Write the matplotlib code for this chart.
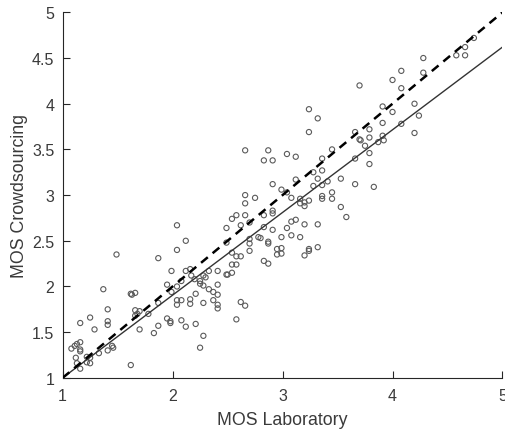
import matplotlib.pyplot as plt

# MOS scores
mos_lab = [1.08, 1.11, 1.13, 1.16, 1.16, 1.16, 1.12, 1.13, 1.16, 1.16,
           1.25, 1.29, 1.22, 1.25, 1.25, 1.33, 1.37, 1.41, 1.41, 1.41,
           1.41, 1.46, 1.49, 1.62, 1.63, 1.66, 1.62, 1.66, 1.68, 1.66,
           1.70, 1.70, 1.78, 1.83, 1.87, 1.87, 1.87, 1.95, 1.95, 1.98,
           1.98, 1.99, 1.99, 2.04, 2.04, 2.04, 2.04, 2.04, 2.08, 2.08,
           2.08, 2.12, 2.12, 2.12, 2.16, 2.17, 2.16, 2.16, 2.21, 2.21,
           2.25, 2.25, 2.25, 2.28, 2.28, 2.28, 2.28, 2.33, 2.33, 2.37,
           2.37, 2.41, 2.41, 2.41, 2.41, 2.41, 2.49, 2.49, 2.49, 2.50,
           2.54, 2.54, 2.54, 2.54, 2.58, 2.58, 2.58, 2.58, 2.62, 2.62,
           2.62, 2.66, 2.66, 2.66, 2.66, 2.66, 2.70, 2.70, 2.70, 2.70,
           2.75, 2.78, 2.80, 2.83, 2.83, 2.83, 2.83, 2.87, 2.87, 2.87,
           2.87, 2.91, 2.91, 2.91, 2.91, 2.91, 2.95, 2.95, 2.99, 2.99,
           2.99, 2.99, 3.04, 3.04, 3.04, 3.08, 3.08, 3.08, 3.12, 3.12,
           3.12, 3.16, 3.16, 3.16, 3.20, 3.20, 3.20, 3.20, 3.24, 3.24,
           3.24, 3.24, 3.24, 3.28, 3.28, 3.32, 3.32, 3.32, 3.32, 3.36,
           3.36, 3.36, 3.36, 3.36, 3.41, 3.45, 3.45, 3.45, 3.53, 3.53,
           3.58, 3.66, 3.66, 3.66, 3.70, 3.70, 3.71, 3.75, 3.79, 3.79,
           3.79, 3.79, 3.83, 3.87, 3.91, 3.91, 3.91, 3.92, 4.00, 4.00,
           4.08, 4.08, 4.08, 4.20, 4.20, 4.24, 4.28, 4.28, 4.58, 4.66,
           4.66, 4.74, 1.22, 1.45, 2.30, 2.20]
mos_crowd = [1.32, 1.35, 1.37, 1.39, 1.31, 1.29, 1.22, 1.16, 1.10, 1.60,
             1.66, 1.53, 1.17, 1.16, 1.22, 1.27, 1.97, 1.75, 1.62, 1.58,
             1.30, 1.33, 2.35, 1.92, 1.91, 1.93, 1.14, 1.74, 1.70, 1.68,
             1.73, 1.53, 1.70, 1.49, 2.31, 1.82, 1.57, 2.02, 1.65, 1.62,
             1.60, 2.17, 1.94, 2.67, 2.40, 1.85, 1.80, 2.00, 2.06, 1.85,
             1.63, 2.50, 2.17, 1.56, 2.19, 2.12, 1.86, 1.81, 1.92, 1.59,
             2.06, 2.03, 1.33, 1.46, 1.82, 2.01, 2.12, 2.17, 1.97, 1.94,
             1.85, 2.17, 2.02, 1.91, 1.80, 1.76, 2.64, 2.48, 2.13, 2.13,
             2.74, 2.37, 2.24, 2.15, 2.78, 2.24, 2.33, 1.64, 2.67, 2.33,
             1.83, 3.49, 3.00, 2.91, 2.78, 1.79, 2.70, 2.52, 2.47, 2.39,
             2.97, 2.54, 2.53, 3.38, 2.78, 2.65, 2.28, 3.49, 2.49, 2.47,
             2.25, 3.38, 3.12, 2.83, 2.80, 2.62, 2.41, 2.35, 3.06, 2.54,
             2.42, 2.36, 3.45, 3.03, 2.64, 2.97, 2.71, 2.56, 3.42, 3.17,
             2.73, 2.96, 2.91, 2.54, 2.92, 2.88, 2.68, 2.34, 3.94, 3.69,
             2.94, 2.41, 2.39, 3.10, 3.25, 3.84, 3.18, 2.68, 2.43, 3.40,
             3.27, 3.11, 2.99, 2.96, 3.15, 3.50, 3.03, 2.96, 3.18, 2.87,
             2.76, 3.69, 3.40, 3.12, 4.20, 3.61, 3.60, 3.54, 3.72, 3.63,
             3.46, 3.34, 3.09, 3.58, 3.97, 3.79, 3.65, 3.60, 4.26, 3.91,
             4.36, 4.17, 3.78, 4.00, 3.68, 3.87, 4.50, 4.34, 4.53, 4.53,
             4.62, 4.72, 1.23, 1.35, 2.10, 2.08]

# regression fit (solid) and identity line (dashed)
fit_x = [1, 5]
fit_y = [1, 4.62]
ident_x = [1, 5]
ident_y = [1, 5]

fig = plt.figure(figsize=(5.05, 4.31), dpi=100)
ax = fig.add_axes([0.124, 0.121, 0.871, 0.848])

ax.scatter(mos_lab, mos_crowd, s=14, facecolors='none', edgecolors='#5a5a5a',
           linewidths=0.8, zorder=2)
ax.plot(fit_x, fit_y, color='#333333', lw=1.0, zorder=3)
ax.plot(ident_x, ident_y, color='black', lw=1.8, ls=(0, (3.5, 2.5)), zorder=3)

ax.set_xlim(1, 5)
ax.set_ylim(1, 5)
ax.set_xticks([1, 2, 3, 4, 5])
ax.set_yticks([1, 1.5, 2, 2.5, 3, 3.5, 4, 4.5, 5])
ax.set_yticklabels(['1', '1.5', '2', '2.5', '3', '3.5', '4', '4.5', '5'])

for s in ['top', 'right']:
    ax.spines[s].set_visible(False)
for s in ['left', 'bottom']:
    ax.spines[s].set_color('#262626')
    ax.spines[s].set_linewidth(0.8)

ax.tick_params(direction='in', length=5, width=0.8, colors='#262626',
               labelsize=11.5, labelcolor='#3a3a3a')
ax.tick_params(axis='x', pad=7)
ax.tick_params(axis='y', pad=6)
for lbl in ax.get_xticklabels() + ax.get_yticklabels():
    lbl.set_family('Liberation Sans')

ax.set_xlabel('MOS Laboratory', fontsize=12.8, color='#3a3a3a',
              family='Liberation Sans', labelpad=6)
ax.set_ylabel('MOS Crowdsourcing', fontsize=12.8, color='#3a3a3a',
              family='Liberation Sans', labelpad=3)

plt.savefig('out.png', dpi=100)
